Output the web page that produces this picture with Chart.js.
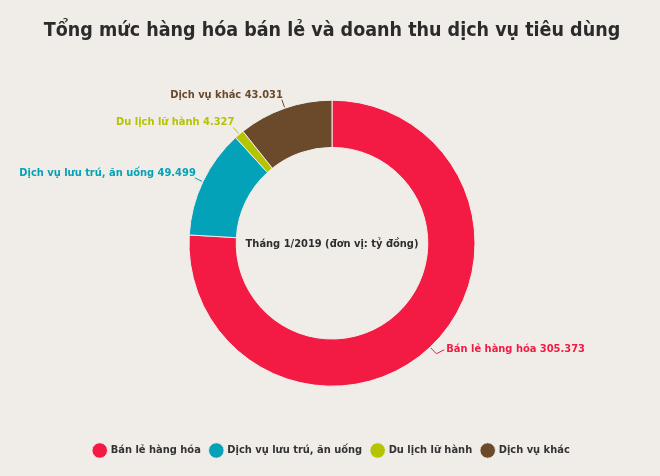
<!DOCTYPE html>
<html>
<head>
<meta charset="utf-8">
<script src="https://cdn.jsdelivr.net/npm/chart.js@4.4.0/dist/chart.umd.min.js"></script>
<style>
  html, body { margin: 0; padding: 0; background: #f0ede8; }
  #wrap { width: 660px; height: 476px; }
</style>
</head>
<body>
<div id="wrap"><canvas id="chart"></canvas></div>
<script>
// du lieu
const danhMuc = ['Bán lẻ hàng hóa', 'Dịch vụ lưu trú, ăn uống', 'Du lịch lữ hành', 'Dịch vụ khác'];
const giaTri = [305.373, 49.499, 4.327, 43.031];
const nhanGiaTri = ['305.373', '49.499', '4.327', '43.031'];
const mauSac = ['#f31a43', '#03a2b8', '#b4c400', '#6a4a2b'];
const tieuDe = 'Tổng mức hàng hóa bán lẻ và doanh thu dịch vụ tiêu dùng';
const chuGiua = 'Tháng 1/2019 (đơn vị: tỷ đồng)';

const FONT = '"DejaVu Sans Condensed", "Liberation Sans Narrow", "Open Sans", sans-serif';

// ve chu o giua va nhan ben ngoai
const nhanPlugin = {
  id: 'nhan',
  afterDatasetsDraw(chart) {
    const ctx = chart.ctx;
    const meta = chart.getDatasetMeta(0);
    ctx.save();
    meta.data.forEach((arc, i) => {
      const mid = (arc.startAngle + arc.endAngle) / 2;
      const r = arc.outerRadius;
      const cos = Math.cos(mid), sin = Math.sin(mid);
      const x0 = arc.x + cos * (r + 1);
      const y0 = arc.y + sin * (r + 1);
      const x1 = arc.x + cos * (r + 9);
      const y1 = arc.y + sin * (r + 9);
      const phai = cos >= 0;
      ctx.strokeStyle = mauSac[i];
      ctx.lineWidth = 1;
      ctx.beginPath();
      ctx.moveTo(x0, y0);
      ctx.lineTo(x1, y1);
      if (phai) ctx.lineTo(x1 + 8, y1 - 4);
      ctx.stroke();
      ctx.font = 'bold 11px ' + FONT;
      ctx.fillStyle = mauSac[i];
      ctx.textAlign = phai ? 'left' : 'right';
      ctx.textBaseline = 'middle';
      const txt = danhMuc[i] + ' ' + nhanGiaTri[i];
      if (phai) ctx.fillText(txt, x1 + 10, y1 - 5);
      else ctx.fillText(txt, x1 + 1, y1 - 5);
    });
    ctx.font = 'bold 11px ' + FONT;
    ctx.fillStyle = '#2e2e2e';
    ctx.textAlign = 'center';
    ctx.textBaseline = 'middle';
    ctx.fillText(chuGiua, meta.data[0].x, meta.data[0].y + 1);
    ctx.restore();
  }
};

const nenPlugin = {
  id: 'nen',
  beforeDraw(chart) {
    const ctx = chart.ctx;
    ctx.save();
    ctx.fillStyle = '#f0ede8';
    ctx.fillRect(0, 0, chart.width, chart.height);
    ctx.restore();
  }
};

new Chart(document.getElementById('chart'), {
  type: 'doughnut',
  data: {
    labels: danhMuc,
    datasets: [{
      data: giaTri,
      backgroundColor: mauSac,
      borderColor: '#f0ede8',
      borderWidth: 1,
      hoverOffset: 0
    }]
  },
  options: {
    responsive: true,
    maintainAspectRatio: false,
    animation: false,
    cutout: '67%',
    radius: 143,
    layout: { padding: { left: 4, right: 0, top: 0, bottom: 10 } },
    plugins: {
      title: {
        display: true,
        text: tieuDe,
        color: '#2b2b2b',
        font: { family: FONT, size: 19.5, weight: 'bold' },
        padding: { top: 19, bottom: 9 }
      },
      legend: {
        position: 'bottom',
        labels: {
          usePointStyle: true,
          pointStyle: 'circle',
          boxWidth: 12,
          boxHeight: 12,
          padding: 10,
          color: '#333333',
          font: { family: FONT, size: 11, weight: 'bold' }
        }
      },
      tooltip: { enabled: false }
    }
  },
  plugins: [nenPlugin, nhanPlugin]
});
</script>
</body>
</html>
